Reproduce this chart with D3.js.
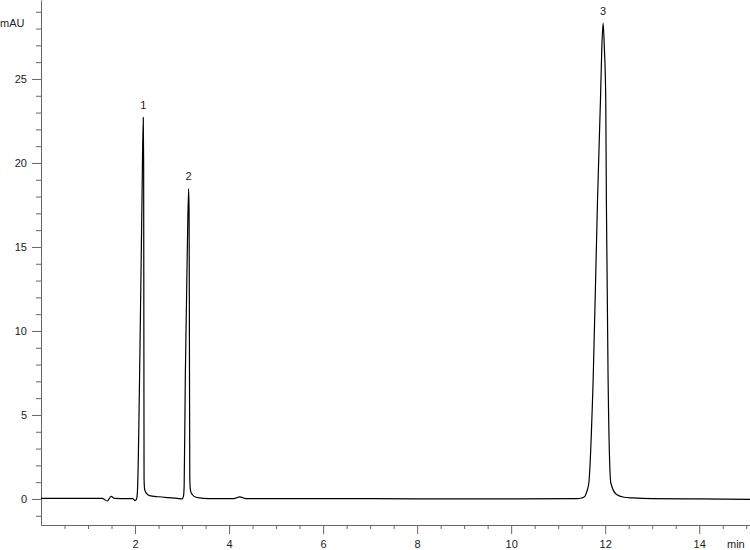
<!DOCTYPE html>
<html>
<head>
<meta charset="utf-8">
<script src="https://cdn.jsdelivr.net/npm/d3@7"></script>
<style>
  body { margin: 0; background: #fff; }
  svg { display: block; font-family: "Liberation Sans", Arial, sans-serif; }
  .axis path, .axis line { stroke: #666; }
  .axis text { fill: #222; font-size: 11px; }
</style>
</head>
<body>
<div class="chromatogram"></div>
<script>
// retention time (min) and signal (mAU)
const times = [
  0, 1.30, 1.41, 1.49, 1.57, 1.95, 2.00, 2.03, 2.045, 2.055, 2.105, 2.148, 2.175,
  2.183, 2.188, 2.192, 2.205, 2.24, 2.31, 2.50, 2.70, 2.90, 3.00, 3.03, 3.045,
  3.07, 3.11, 3.14, 3.150, 3.158, 3.165, 3.18, 3.22, 3.30, 3.45, 3.70, 4.10,
  4.23, 4.36, 6.0, 8.0, 10.0, 11.40, 11.50, 11.567, 11.61, 11.652, 11.744,
  11.837, 11.90, 11.93, 11.956, 11.98, 12.012, 12.025, 12.062, 12.12, 12.241,
  12.40, 12.594, 13.0, 14.0, 15.08
]
const signal = [
  0.04, 0.04, -0.12, 0.15, 0.03, 0.02, -0.10, -0.02, 0.2, 0.7, 8.9, 17.8, 22.7,
  20, 10, 1.2, 0.55, 0.35, 0.2, 0.13, 0.08, 0.04, 0.0, 0.15, 0.8,
  7.4, 14.5, 18.47, 17, 8, 1.2, 0.5, 0.25, 0.1, 0.04, 0.02, 0.02,
  0.12, 0.02, 0.02, 0.01, 0.01, 0.02, 0.06, 0.15, 0.45, 0.95, 7.1,
  17.8, 23.8, 27.0, 28.33, 27.0, 23.8, 17.8, 7.1, 0.95, 0.26,
  0.1, 0.06, 0.02, 0.0, -0.02
]

// peak annotations
const peakNames = ["1", "2", "3"]
const peakTimes = [2.175, 3.14, 11.956]
const peakHeights = [22.7, 18.47, 28.33]

// axis ticks
const xMajorTicks = [2, 4, 6, 8, 10, 12, 14]
const xMinorTicks = [0.5, 1, 1.5, 2.5, 3, 3.5, 4.5, 5, 5.5, 6.5, 7, 7.5, 8.5, 9, 9.5,
  10.5, 11, 11.5, 12.5, 13, 13.5, 14.5, 15]
const yMajorTicks = [0, 5, 10, 15, 20, 25]
const yMinorTicks = [-1, 1, 2, 3, 4, 6, 7, 8, 9, 11, 12, 13, 14, 16, 17, 18, 19,
  21, 22, 23, 24, 26, 27, 28, 29]

const dimensions = { width: 750, height: 550 }
const plot = { left: 41, right: 750, top: 0, bottom: 525 }

const svg = d3.select('.chromatogram')
  .append('svg')
  .attr('width', dimensions.width)
  .attr('height', dimensions.height)

const x = d3.scaleLinear().domain([0, 15.08]).range([plot.left, plot.right])
const y = d3.scaleLinear().domain([-1.55, 29.7]).range([plot.bottom, plot.top])

// y axis: minor ticks first, then labelled majors with the axis line
svg.append('g')
  .attr('class', 'axis')
  .attr('transform', `translate(${plot.left}, 0)`)
  .call(d3.axisLeft(y).tickValues(yMinorTicks).tickSize(5).tickFormat(''))
  .call(g => g.select('.domain').remove())
  .selectAll('line').attr('stroke', '#888')

svg.append('g')
  .attr('class', 'axis')
  .attr('transform', `translate(${plot.left}, 0)`)
  .call(d3.axisLeft(y).tickValues(yMajorTicks).tickSize(9).tickSizeOuter(0).tickPadding(5))

// x axis
svg.append('g')
  .attr('class', 'axis')
  .attr('transform', `translate(0, ${plot.bottom})`)
  .call(d3.axisBottom(x).tickValues(xMinorTicks).tickSize(4).tickFormat(''))
  .call(g => g.select('.domain').remove())

svg.append('g')
  .attr('class', 'axis')
  .attr('transform', `translate(0, ${plot.bottom})`)
  .call(d3.axisBottom(x).tickValues(xMajorTicks).tickSize(9).tickSizeOuter(0).tickPadding(6.5))

// unit labels
svg.append('text')
  .attr('x', 0)
  .attr('y', 26.5)
  .attr('font-size', 11)
  .attr('fill', '#222')
  .text('mAU')

svg.append('text')
  .attr('x', 727)
  .attr('y', 547.5)
  .attr('font-size', 11)
  .attr('fill', '#222')
  .text('min')

// the trace
const trace = times.map((t, i) => ({ t, v: signal[i] }))

const line = d3.line()
  .x(d => x(d.t))
  .y(d => y(d.v))
  .curve(d3.curveMonotoneX)

svg.append('path')
  .datum(trace)
  .attr('fill', 'none')
  .attr('stroke', '#000')
  .attr('stroke-width', 1.2)
  .attr('d', line)

// peak numbers
svg.selectAll('.peak-label')
  .data(peakNames)
  .enter()
  .append('text')
  .attr('class', 'peak-label')
  .attr('x', (d, i) => x(peakTimes[i]))
  .attr('y', (d, i) => y(peakHeights[i]) - 8.5)
  .attr('text-anchor', 'middle')
  .attr('font-size', 11)
  .attr('fill', '#222')
  .text(d => d)
</script>
</body>
</html>
